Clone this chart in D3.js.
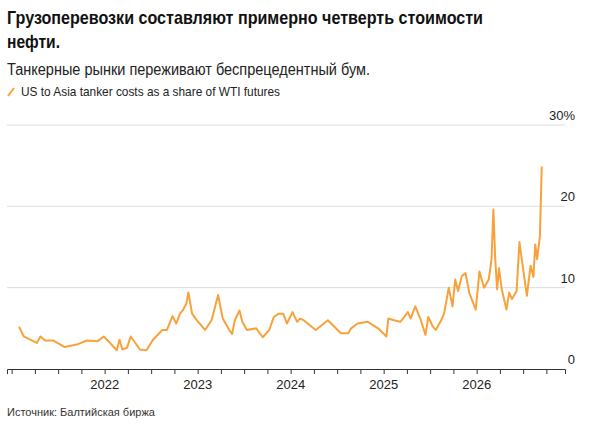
<!DOCTYPE html>
<html>
<head>
<meta charset="utf-8">
<script src="https://cdn.jsdelivr.net/npm/d3@7"></script>
<style>
  body { margin: 0; background: #fff; font-family: "Liberation Sans", Arial, sans-serif; }
  svg text { font-family: "Liberation Sans", Arial, sans-serif; }
</style>
</head>
<body>
<svg id="chart" width="593" height="430"></svg>
<script>
// decimal year of each reading and the tanker cost share (%)
const when = [
  2021.08, 2021.13, 2021.27, 2021.31, 2021.36, 2021.45, 2021.57, 2021.70, 2021.81, 2021.92,
  2021.99, 2022.05, 2022.13, 2022.16, 2022.19, 2022.24, 2022.28, 2022.38, 2022.45, 2022.52,
  2022.62, 2022.67, 2022.73, 2022.77, 2022.81, 2022.84, 2022.88, 2022.90, 2022.94, 2022.99,
  2023.08, 2023.15, 2023.22, 2023.27, 2023.34, 2023.37, 2023.40, 2023.45, 2023.48, 2023.53,
  2023.63, 2023.70, 2023.77, 2023.82, 2023.87, 2023.92, 2023.96, 2024.02, 2024.07, 2024.10,
  2024.14, 2024.27, 2024.40, 2024.54, 2024.62, 2024.65, 2024.72, 2024.83, 2024.94, 2025.03,
  2025.05, 2025.11, 2025.18, 2025.26, 2025.29, 2025.34, 2025.40, 2025.45, 2025.48, 2025.53,
  2025.56, 2025.61, 2025.65, 2025.70, 2025.74, 2025.77, 2025.80, 2025.84, 2025.88, 2025.92,
  2025.99, 2026.03, 2026.08, 2026.13, 2026.16, 2026.18, 2026.20, 2026.22, 2026.24, 2026.27,
  2026.32, 2026.35, 2026.38, 2026.43, 2026.46, 2026.49, 2026.54, 2026.58, 2026.61, 2026.63,
  2026.65, 2026.68, 2026.70
];
const share = [
  5.2, 4.0, 3.2, 4.0, 3.5, 3.5, 2.7, 3.0, 3.5, 3.4,
  4.0, 3.3, 2.3, 3.6, 2.4, 2.6, 4.0, 2.4, 2.3, 3.6,
  4.8, 4.8, 6.5, 5.6, 6.8, 7.2, 8.1, 9.4, 6.8, 6.0,
  4.8, 6.0, 9.1, 6.2, 4.8, 4.3, 6.0, 7.2, 5.8, 4.8,
  5.0, 3.9, 4.8, 6.4, 6.8, 6.8, 5.6, 7.0, 5.8, 6.2,
  6.0, 4.8, 6.0, 4.4, 4.4, 5.0, 5.6, 5.8, 5.0, 4.0,
  6.2, 6.0, 5.8, 7.0, 6.2, 7.7, 6.0, 4.2, 6.4, 5.2,
  4.8, 5.8, 6.8, 10.0, 7.7, 11.0, 9.6, 11.4, 11.8, 9.4,
  7.3, 12.0, 10.0, 11.0, 13.5, 19.6, 13.5, 9.8, 12.4, 9.8,
  7.3, 9.4, 8.6, 9.6, 15.6, 13.1, 9.0, 12.7, 11.3, 15.3,
  13.5, 16.3, 24.9
];
const yTicks = [0, 10, 20, 30];
const yearTicks = [2022, 2023, 2024, 2025, 2026];

const orange = "#f7a23b";
const svg = d3.select("#chart");

const pts = when.map((t, i) => ({ t, v: share[i] }));

const x = d3.scaleLinear().domain([2020.95, 2026.95]).range([7, 565]);
const y = d3.scaleLinear().domain([0, 30]).range([369, 125]);

// titles
svg.append("text").attr("x", 7).attr("y", 24).attr("font-size", 18.5).attr("font-weight", "bold")
  .attr("fill", "#111").attr("textLength", 476).attr("lengthAdjust", "spacingAndGlyphs")
  .text("Грузоперевозки составляют примерно четверть стоимости");
svg.append("text").attr("x", 7).attr("y", 48).attr("font-size", 18.5).attr("font-weight", "bold")
  .attr("fill", "#111").attr("textLength", 53).attr("lengthAdjust", "spacingAndGlyphs")
  .text("нефти.");
svg.append("text").attr("x", 7).attr("y", 75).attr("font-size", 16).attr("fill", "#222")
  .attr("textLength", 363).attr("lengthAdjust", "spacingAndGlyphs")
  .text("Танкерные рынки переживают беспрецедентный бум.");
svg.append("line").attr("x1", 8).attr("y1", 96).attr("x2", 14).attr("y2", 88)
  .attr("stroke", orange).attr("stroke-width", 2);
svg.append("text").attr("x", 21).attr("y", 96).attr("font-size", 13).attr("fill", "#222")
  .attr("textLength", 259).attr("lengthAdjust", "spacingAndGlyphs")
  .text("US to Asia tanker costs as a share of WTI futures");

// grid
svg.append("g").selectAll("line").data(yTicks.filter(d => d > 0)).join("line")
  .attr("x1", 7).attr("x2", 565).attr("y1", d => y(d)).attr("y2", d => y(d))
  .attr("stroke", "#dcdcdc").attr("stroke-width", 1);
svg.append("g").selectAll("text").data(yTicks).join("text")
  .attr("x", 575).attr("y", d => y(d) - 5).attr("text-anchor", "end")
  .attr("font-size", 13).attr("fill", "#222").text(d => d === 30 ? "30%" : d);

// x axis with quarterly ticks
const quarters = d3.range(2021, 2027, 0.25);
const ax = svg.append("g").attr("transform", `translate(0,${y(0)})`)
  .call(d3.axisBottom(x).tickValues(quarters).tickSize(5).tickFormat(""));
ax.select(".domain").attr("stroke", "#333");
ax.selectAll(".tick line").attr("stroke", "#333");
svg.append("g").selectAll("text").data(yearTicks).join("text")
  .attr("x", d => x(d)).attr("y", 389).attr("text-anchor", "middle")
  .attr("font-size", 13).attr("fill", "#222").text(d => d);

// series
svg.append("path").datum(pts)
  .attr("fill", "none").attr("stroke", orange).attr("stroke-width", 2)
  .attr("stroke-linejoin", "round")
  .attr("d", d3.line().x(d => x(d.t)).y(d => y(d.v)));

svg.append("text").attr("x", 7).attr("y", 416).attr("font-size", 11).attr("fill", "#333")
  .text("Источник: Балтийская биржа");
</script>
</body>
</html>
